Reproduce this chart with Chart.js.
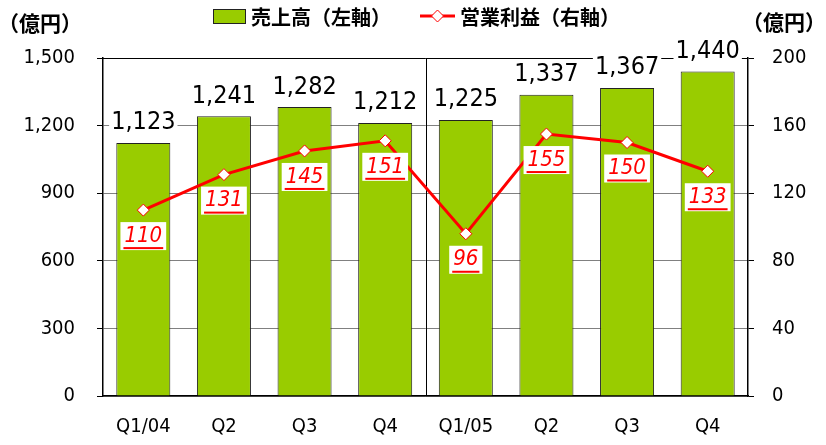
<!DOCTYPE html>
<html>
<head>
<meta charset="utf-8">
<script src="https://cdn.jsdelivr.net/npm/chart.js@4.4.1/dist/chart.umd.min.js"></script>
<style>
  html, body { margin: 0; padding: 0; background: #fff; }
  #wrap { width: 826px; height: 445px; }
</style>
</head>
<body>
<div id="wrap"><canvas id="salesChart" width="826" height="445"></canvas></div>
<script>
// Dati
let quarters = ["Q1/04", "Q2", "Q3", "Q4", "Q1/05", "Q2", "Q3", "Q4"];
let salesValues = [1123, 1241, 1282, 1212, 1225, 1337, 1367, 1440];
let profitValues = [110, 131, 145, 151, 96, 155, 150, 133];
let leftTicks = [0, 300, 600, 900, 1200, 1500];
let rightTicks = [0, 40, 80, 120, 160, 200];
let salesName = "売上高（左軸）";
let profitName = "営業利益（右軸）";
let unitLabel = "（億円）";

let numFont = '"DejaVu Sans Condensed", "Liberation Sans Narrow", sans-serif';
let jpFont = '"Noto Sans CJK JP", sans-serif';
let barGreen = "#99CC00";

// Formatta i numeri con la virgola delle migliaia
function fmt(n) {
  return n.toString().replace(/\B(?=(\d{3})+(?!\d))/g, ",");
}

// Disegna un rombo (marker della linea)
function diamond(ctx, x, y, r) {
  ctx.beginPath();
  ctx.moveTo(x, y - r);
  ctx.lineTo(x + r, y);
  ctx.lineTo(x, y + r);
  ctx.lineTo(x - r, y);
  ctx.closePath();
  ctx.fillStyle = "#fff";
  ctx.fill();
  ctx.strokeStyle = "#FF0000";
  ctx.lineWidth = 1;
  ctx.stroke();
}

// Bordo superiore e separatore tra i due anni
let framePlugin = {
  id: "frame",
  beforeDatasetsDraw(chart) {
    let ctx = chart.ctx;
    let area = chart.chartArea;
    let x = chart.scales.x;
    let sepX = (x.getPixelForValue(3) + x.getPixelForValue(4)) / 2;
    ctx.save();
    ctx.strokeStyle = "#000";
    ctx.lineWidth = 1;
    ctx.beginPath();
    ctx.moveTo(area.left, area.top + 0.5);
    ctx.lineTo(area.right, area.top + 0.5);
    ctx.moveTo(Math.round(sepX) + 0.5, area.top);
    ctx.lineTo(Math.round(sepX) + 0.5, area.bottom);
    ctx.stroke();
    ctx.restore();
  }
};

// Etichette dei valori sopra le barre e sotto i punti
let labelsPlugin = {
  id: "valueLabels",
  afterDatasetsDraw(chart) {
    let ctx = chart.ctx;
    ctx.save();
    ctx.textAlign = "center";
    ctx.textBaseline = "middle";

    let bars = chart.getDatasetMeta(0).data;
    ctx.font = "25px " + numFont;
    bars.forEach((bar, i) => {
      let txt = fmt(salesValues[i]);
      let w = ctx.measureText(txt).width;
      let cy = bar.y - 21;
      ctx.fillStyle = "#fff";
      ctx.fillRect(bar.x - w / 2 - 2, cy - 13, w + 4, 26);
      ctx.fillStyle = "#000";
      ctx.fillText(txt, bar.x, cy + 1);
    });

    let points = chart.getDatasetMeta(1).data;
    ctx.font = "italic 22px " + numFont;
    points.forEach((pt, i) => {
      let txt = String(profitValues[i]);
      let w = ctx.measureText(txt).width;
      let cy = pt.y + 26;
      let boxW = Math.max(w + 8, 30);
      ctx.fillStyle = "#fff";
      ctx.fillRect(pt.x - boxW / 2, pt.y + 12, boxW, 28);
      ctx.fillStyle = "#FF0000";
      ctx.fillText(txt, pt.x, cy);
      ctx.fillRect(pt.x - w / 2 - 1, cy + 11, w + 2, 2);
    });
    ctx.restore();
  }
};

// Legenda e unità disegnate a mano
let legendPlugin = {
  id: "customLegend",
  afterDraw(chart) {
    let ctx = chart.ctx;
    ctx.save();
    ctx.textBaseline = "middle";
    ctx.textAlign = "left";
    ctx.fillStyle = barGreen;
    ctx.fillRect(213, 9, 32, 14);
    ctx.strokeStyle = "#222";
    ctx.lineWidth = 1;
    ctx.strokeRect(213.5, 9.5, 32, 14);

    ctx.strokeStyle = "#FF0000";
    ctx.lineWidth = 3;
    ctx.beginPath();
    ctx.moveTo(420, 16);
    ctx.lineTo(455, 16);
    ctx.stroke();
    diamond(ctx, 437.5, 16, 6);

    ctx.fillStyle = "#000";
    ctx.font = "bold 20px " + jpFont;
    ctx.fillText(salesName, 251, 17);
    ctx.fillText(profitName, 460, 17);
    ctx.font = "bold 21px " + jpFont;
    ctx.fillText(unitLabel, -2, 23);
    ctx.fillText(unitLabel, 742, 22);
    ctx.restore();
  }
};

new Chart("salesChart", {
  type: "bar",
  data: {
    labels: quarters,
    datasets: [
      {
        type: "bar",
        label: salesName,
        data: salesValues,
        yAxisID: "y",
        backgroundColor: barGreen,
        borderColor: "#222",
        borderWidth: 1,
        barPercentage: 0.67,
        categoryPercentage: 1,
        order: 2
      },
      {
        type: "line",
        label: profitName,
        data: profitValues,
        yAxisID: "y1",
        borderColor: "#FF0000",
        borderWidth: 3,
        pointStyle: "rectRot",
        pointRadius: 6,
        pointBackgroundColor: "#fff",
        pointBorderColor: "#FF0000",
        pointBorderWidth: 1,
        tension: 0,
        order: 1
      }
    ]
  },
  options: {
    responsive: false,
    animation: false,
    events: [],
    layout: { padding: { top: 58, left: 0, right: 0, bottom: 0 } },
    plugins: {
      legend: { display: false },
      title: { display: false },
      tooltip: { enabled: false }
    },
    scales: {
      x: {
        grid: { display: false, drawTicks: false },
        border: { color: "#000", width: 1.5 },
        ticks: { color: "#000", font: { family: numFont, size: 20 }, padding: 19, maxRotation: 0, autoSkip: false },
        afterFit(scale) { scale.height = 49; }
      },
      y: {
        position: "left",
        min: 0,
        max: 1500,
        afterBuildTicks(scale) { scale.ticks = leftTicks.map(v => ({ value: v })); },
        grid: { color: "#808080", tickColor: "#000", tickLength: 6, lineWidth: 1 },
        border: { color: "#000", width: 1.5 },
        ticks: { color: "#000", font: { family: numFont, size: 20 }, padding: 22, callback: v => fmt(v) },
        afterFit(scale) { scale.width = 103; }
      },
      y1: {
        position: "right",
        min: 0,
        max: 200,
        afterBuildTicks(scale) { scale.ticks = rightTicks.map(v => ({ value: v })); },
        grid: { drawOnChartArea: false, tickColor: "#000", tickLength: 6 },
        border: { color: "#000", width: 1.5 },
        ticks: { color: "#000", font: { family: numFont, size: 20 }, padding: 18 },
        afterFit(scale) { scale.width = 78; }
      }
    }
  },
  plugins: [framePlugin, labelsPlugin, legendPlugin]
});
</script>
</body>
</html>
